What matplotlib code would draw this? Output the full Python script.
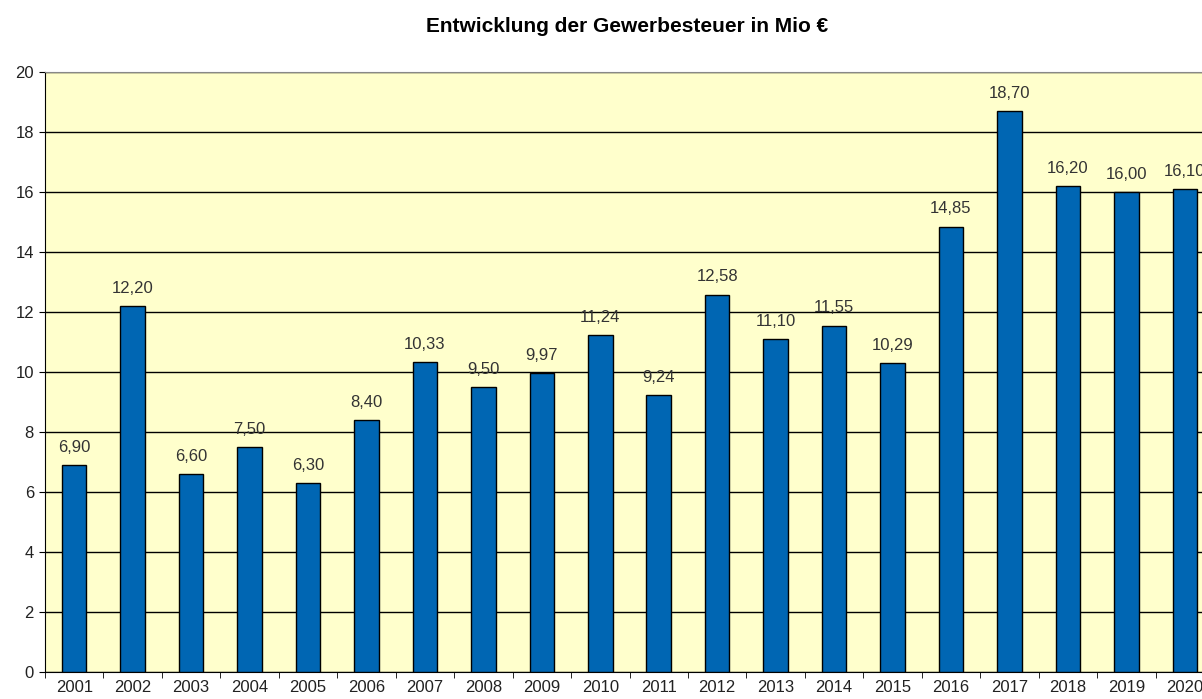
import matplotlib
matplotlib.use('Agg')
import matplotlib.pyplot as plt
import numpy as np

plt.rcParams['font.family'] = ['Liberation Sans', 'DejaVu Sans']

# Jahre und Gewerbesteuer in Mio Euro
jahre = ['2001', '2002', '2003', '2004', '2005', '2006', '2007', '2008', '2009', '2010',
         '2011', '2012', '2013', '2014', '2015', '2016', '2017', '2018', '2019', '2020']
werte = [6.90, 12.20, 6.60, 7.50, 6.30, 8.40, 10.33, 9.50, 9.97, 11.24,
         9.24, 12.58, 11.10, 11.55, 10.29, 14.85, 18.70, 16.20, 16.00, 16.10]

fig = plt.figure(figsize=(12.02, 6.99), dpi=100)
# Plotbereich ragt rechts etwas über den Bildrand hinaus (wie im Original)
ax = fig.add_axes([45 / 1202, 27 / 699, 1169 / 1202, 600 / 699])
ax.set_facecolor('#FFFFCC')

x = np.arange(len(jahre))
ax.set_axisbelow(True)
ax.yaxis.grid(True, color='black', linewidth=1)
ax.bar(x, werte, width=0.42, color='#0066B3', edgecolor='black', linewidth=1, zorder=3)

# Wertbeschriftung mit Dezimalkomma
for xi, v in zip(x, werte):
    ax.annotate('{:.2f}'.format(v).replace('.', ','), (xi, v), xytext=(0, 9.5),
                textcoords='offset points', ha='center', va='baseline', fontsize=12, color='#333333')

ax.set_xlim(-0.5, len(jahre) - 0.5)
ax.set_ylim(0, 20)
ax.set_yticks(range(0, 21, 2))
ax.set_xticks(x)
ax.set_xticklabels(jahre)
ax.set_xticks(np.arange(-0.5, len(jahre), 1), minor=True)
ax.tick_params(axis='x', which='major', length=0, labelsize=12, pad=6, labelcolor='#222222')
ax.tick_params(axis='x', which='minor', length=4, direction='out')
ax.tick_params(axis='y', length=4, direction='out', labelsize=12, pad=4, labelcolor='#222222')

ax.spines['right'].set_visible(False)
ax.spines['top'].set_color('#888888')
ax.spines['left'].set_color('black')
ax.spines['bottom'].set_color('black')

# Titel (im Original leicht rechts der Bildmitte)
fig.text(627 / 1202, 1 - 26 / 699, 'Entwicklung der Gewerbesteuer in Mio €', ha='center', va='center',
         fontsize=15, fontweight='bold')

fig.savefig('out.png', dpi=100)
